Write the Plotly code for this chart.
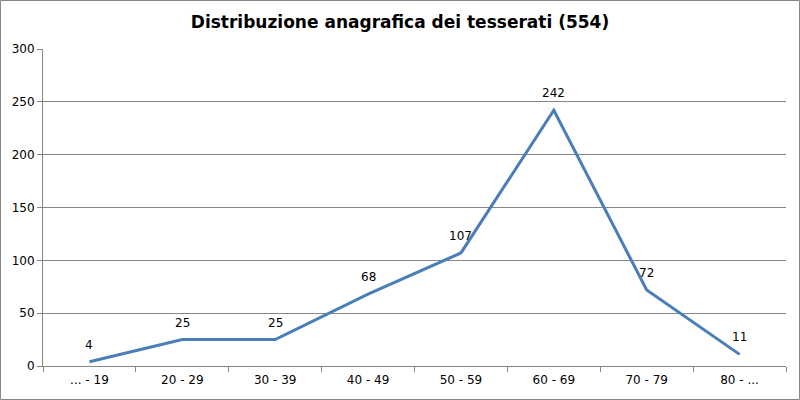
import plotly.graph_objects as go

categories = ["... - 19", "20 - 29", "30 - 39", "40 - 49", "50 - 59", "60 - 69", "70 - 79", "80 - ..."]
values = [4, 25, 25, 68, 107, 242, 72, 11]
title = "Distribuzione anagrafica dei tesserati (554)"

W, H = 800, 400
ml, mr, mt, mb = 43, 14, 49, 34
pw, ph = W - ml - mr, H - mt - mb

font = "DejaVu Sans, Verdana, sans-serif"
gray = "#868686"

fig = go.Figure(go.Scatter(
    x=categories, y=values, mode="lines",
    line=dict(color="#4A7EBB", width=3),
    cliponaxis=False, hoverinfo="skip",
))

for c, v in zip(categories, values):
    fig.add_annotation(x=c, y=v, text=str(v), showarrow=False, yshift=17,
                       font=dict(family=font, size=12, color="black"))

fig.update_layout(
    width=W, height=H, autosize=False,
    margin=dict(l=ml, r=mr, t=mt, b=mb),
    paper_bgcolor="white", plot_bgcolor="white",
    showlegend=False,
    title=dict(text="<b>" + title + "</b>", x=0.5, xanchor="center", y=1 - 22 / H, yanchor="middle",
               font=dict(family=font, size=17, color="black")),
    xaxis=dict(type="category", range=[-0.5, len(categories) - 0.5], showgrid=False,
               showline=True, linecolor=gray, linewidth=1,
               ticks="outside", tickson="boundaries", ticklen=5, tickcolor=gray,
               ticklabelstandoff=3,
               tickfont=dict(family=font, size=12, color="black"), zeroline=False),
    yaxis=dict(range=[0, 300], dtick=50, showgrid=True, gridcolor=gray, gridwidth=1,
               showline=True, linecolor=gray, linewidth=1, ticks="outside", ticklen=5, tickcolor=gray,
               tickfont=dict(family=font, size=12, color="black"), zeroline=False),
    shapes=[dict(type="rect", xref="paper", yref="paper",
                 x0=(-ml + 0.5) / pw, x1=(W - ml - 0.5) / pw,
                 y0=(-mb + 0.5) / ph, y1=(H - mb - 0.5) / ph,
                 line=dict(color=gray, width=1), layer="above")],
)

fig.write_html("out.html", config={"displayModeBar": False},
               post_script="document.body.style.margin='0';document.body.style.overflow='hidden';")
